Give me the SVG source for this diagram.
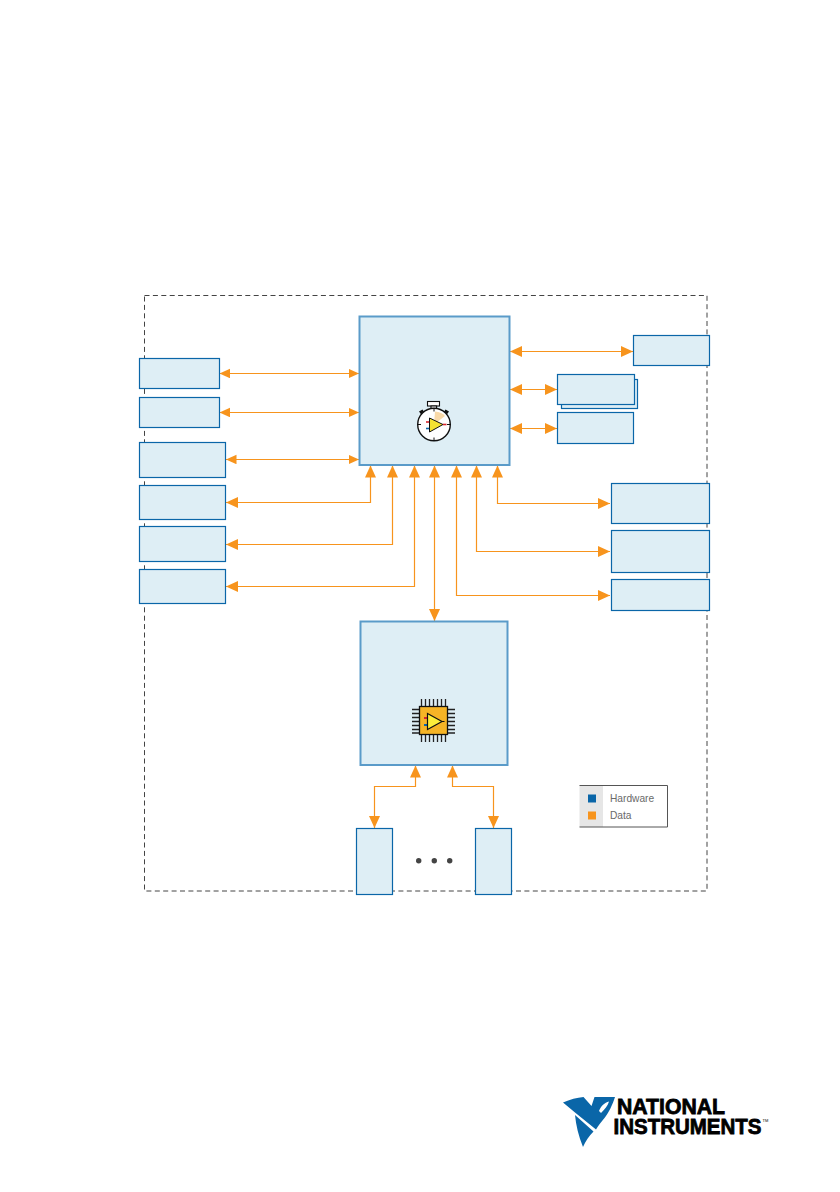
<svg xmlns="http://www.w3.org/2000/svg" width="840" height="1192" viewBox="0 0 840 1192">
<style>
.box{fill:#deeef5;stroke:#0a66a8;stroke-width:1.2}
.main{fill:#deeef5;stroke:#5a9bc9;stroke-width:2}
.c{fill:none;stroke:#f7941d;stroke-width:1.2}
.tk{stroke:#111;stroke-width:1;fill:none}
.pin{stroke:#222;stroke-width:1.3}
.lg{font-family:"Liberation Sans",Arial,sans-serif;font-size:10.2px;fill:#6a6a6a}
.ni{font-family:"Liberation Sans",Arial,sans-serif;font-weight:700;fill:#000;stroke:#000;stroke-width:.8}
</style>
<defs>
<marker id="a" markerUnits="userSpaceOnUse" markerWidth="13" markerHeight="12" refX="12" refY="5.5" orient="auto-start-reverse"><path d="M0,0 L12,5.5 L0,11Z" fill="#f7941d"/></marker>
<marker id="s" markerUnits="userSpaceOnUse" markerWidth="12" markerHeight="10" refX="10.5" refY="4.75" orient="auto-start-reverse"><path d="M0,0 L10.5,4.75 L0,9.5Z" fill="#f7941d"/></marker>
</defs>
<rect id="boundary" x="144.5" y="295.5" width="562.5" height="595.5" fill="none" stroke="#444" stroke-width="1" stroke-dasharray="5 3.4"/>
<g id="connectors">
<path class="c" d="M219.5,373.5H359" marker-start="url(#s)" marker-end="url(#s)"/>
<path class="c" d="M219.5,412.5H359" marker-start="url(#s)" marker-end="url(#s)"/>
<path class="c" d="M226,459.5H359" marker-start="url(#s)" marker-end="url(#s)"/>
<path class="c" d="M510,351.5H633" marker-start="url(#a)" marker-end="url(#a)"/>
<path class="c" d="M510,389.5H557" marker-start="url(#a)" marker-end="url(#a)"/>
<path class="c" d="M510,428.5H557" marker-start="url(#a)" marker-end="url(#a)"/>
<path class="c" d="M226,502.5H370.5V465.5" marker-start="url(#a)" marker-end="url(#a)"/>
<path class="c" d="M226,544.5H392.5V465.5" marker-start="url(#a)" marker-end="url(#a)"/>
<path class="c" d="M226,586.5H414.5V465.5" marker-start="url(#a)" marker-end="url(#a)"/>
<path class="c" d="M434.5,465.5V621" marker-start="url(#a)" marker-end="url(#a)"/>
<path class="c" d="M456.5,465.5V595.5H610" marker-start="url(#a)" marker-end="url(#a)"/>
<path class="c" d="M476.5,465.5V551.5H610" marker-start="url(#a)" marker-end="url(#a)"/>
<path class="c" d="M497.5,465.5V503.5H610" marker-start="url(#a)" marker-end="url(#a)"/>
<path class="c" d="M415.5,765.5V786.5H374.5V828" marker-start="url(#a)" marker-end="url(#a)"/>
<path class="c" d="M452.5,765.5V786.5H493.5V828" marker-start="url(#a)" marker-end="url(#a)"/>
</g>
<g id="n-left1"><rect class="box" x="139.5" y="358.5" width="80" height="30"/></g>
<g id="n-left2"><rect class="box" x="139.5" y="397.5" width="80" height="30"/></g>
<g id="n-left3"><rect class="box" x="139.5" y="442.5" width="86" height="35"/></g>
<g id="n-left4"><rect class="box" x="139.5" y="485.5" width="86" height="34"/></g>
<g id="n-left5"><rect class="box" x="139.5" y="526.5" width="86" height="35"/></g>
<g id="n-left6"><rect class="box" x="139.5" y="569.5" width="86" height="34"/></g>
<g id="n-right1"><rect class="box" x="633.5" y="335.5" width="76" height="30"/></g>
<g id="n-right2"><rect class="box" x="561.5" y="379.5" width="76" height="29"/><rect class="box" x="557.5" y="374.5" width="77" height="30"/></g>
<g id="n-right3"><rect class="box" x="557.5" y="412.5" width="76" height="31"/></g>
<g id="n-right4"><rect class="box" x="611.5" y="483.5" width="98" height="40"/></g>
<g id="n-right5"><rect class="box" x="611.5" y="530.5" width="98" height="42"/></g>
<g id="n-right6"><rect class="box" x="611.5" y="579.5" width="98" height="31"/></g>
<g id="n-bottom1"><rect class="box" x="356.5" y="828.5" width="36" height="66"/></g>
<g id="n-bottom2"><rect class="box" x="475.5" y="828.5" width="36" height="66"/></g>
<g id="n-main">
<rect class="main" x="359.5" y="316.5" width="150" height="148.5"/>
<g id="stopwatch">
<rect x="427.5" y="401.5" width="12" height="4.5" fill="#fff" stroke="#111" stroke-width="1.1"/>
<rect x="431" y="406" width="5.5" height="2.5" fill="#fff" stroke="#111" stroke-width="1.1"/>
<path d="M419,411.5l3.5,-2l2.5,3.5l-3.5,2ZM449,411.5l-3.5,-2l-2.5,3.5l3.5,2Z" fill="#111"/>
<circle cx="434" cy="424.5" r="16.3" fill="#fff" stroke="#111" stroke-width="1.4"/>
<path d="M434,424.5L435,411.5Q442,412 445,416Z" fill="#f9d9a8"/>
<path class="tk" d="M434,408.5v3M434,437.5v3M418,424.5h3M447,424.5h3"/>
<path d="M426,422h3.5" stroke="#d8262e" stroke-width="1.6"/>
<path d="M426,428.5h3.5" stroke="#0a66a8" stroke-width="1.6"/>
<path d="M443,424.5h3.5" stroke="#d8262e" stroke-width="1.6"/>
<path d="M429.5,418V432L443,424.5Z" fill="#f5e232" stroke="#111" stroke-width="1"/>
</g>
</g>
<g id="n-fpga">
<rect class="main" x="360.5" y="621.5" width="147" height="143.5"/>
<g id="chip">
<path class="pin" d="M421.5,699v8M425.5,699v8M429.5,699v8M433.5,699v8M437.5,699v8M441.5,699v8M445.5,699v8M421.5,734v8M425.5,734v8M429.5,734v8M433.5,734v8M437.5,734v8M441.5,734v8M445.5,734v8M412,709.5h8M412,713.5h8M412,717.5h8M412,721.5h8M412,725.5h8M412,729.5h8M412,733h8M447,709.5h8M447,713.5h8M447,717.5h8M447,721.5h8M447,725.5h8M447,729.5h8M447,733h8"/>
<rect x="419.5" y="706.5" width="28" height="28" fill="#f6b426" stroke="#111" stroke-width="1.3"/>
<path d="M424,718h3.5" stroke="#d8262e" stroke-width="2"/>
<path d="M424,725h3.5" stroke="#0a66a8" stroke-width="2"/>
<path d="M427.5,713.5V729.5L442,721.5Z" fill="#fdee3a" stroke="#111" stroke-width="1.2"/>
<path d="M442,721.5h2.5" stroke="#111" stroke-width="1"/>
</g>
</g>
<g id="dots" fill="#444"><circle cx="418.7" cy="860.7" r="2.7"/><circle cx="434.3" cy="860.7" r="2.7"/><circle cx="449.7" cy="860.7" r="2.7"/></g>
<g id="legend">
<rect x="579.5" y="785.5" width="23.5" height="41.5" fill="#e6e6e6"/>
<path d="M579.5,785.5H667.5V827H579.5" fill="none" stroke="#555" stroke-width="1"/>
<rect x="588" y="794.5" width="8" height="8" fill="#0a66a8"/>
<rect x="588" y="811.5" width="8" height="8" fill="#f7941d"/>
<text class="lg" x="610" y="802">Hardware</text>
<text class="lg" x="610" y="819">Data</text>
</g>
<g id="logo">
<path fill-rule="evenodd" d="M563,1102.5C570,1099.5 577,1097.5 583.5,1097L591.5,1106L594.5,1097H615C612.5,1105 608.5,1113 604.5,1118C601,1122 598.5,1125.5 596,1129.5L575,1112.5ZM599,1111C601,1106 604.5,1102.5 609,1101.5C608,1105.5 604.5,1109.5 601,1113Z" fill="#0a66a8"/>
<path d="M575,1115L593.5,1131.5C589,1136 585.5,1141 583,1147C578.5,1136 576,1125 575,1115Z" fill="#0a66a8"/>
<text class="ni" x="617" y="1113.5" font-size="22" textLength="108" lengthAdjust="spacingAndGlyphs">NATIONAL</text>
<text class="ni" x="613.5" y="1133.5" font-size="22" textLength="148" lengthAdjust="spacingAndGlyphs">INSTRUMENTS</text>
<text x="762.5" y="1122" font-family="Liberation Sans,Arial,sans-serif" font-size="4" fill="#000">TM</text>
</g>
</svg>
